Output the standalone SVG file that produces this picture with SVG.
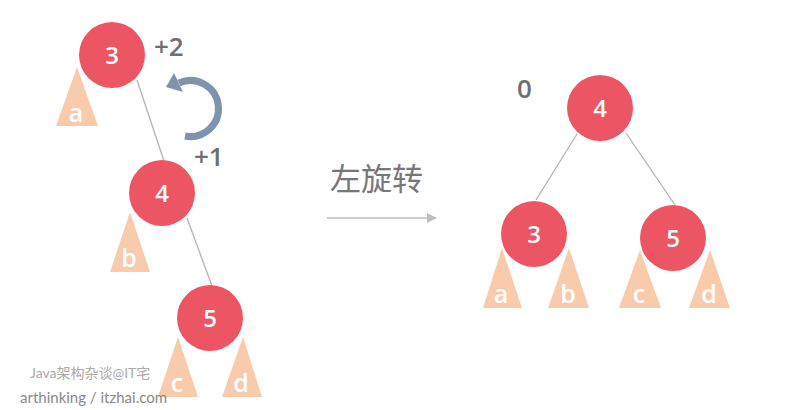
<svg xmlns="http://www.w3.org/2000/svg" width="800" height="410" viewBox="0 0 800 410">
<style>
.n{fill:#ec5564}
.nt{fill:#fff;font-family:"Open Sans","Liberation Sans",sans-serif;font-size:24px;font-weight:600;text-anchor:middle}
.t{fill:#f8cbad}
.tt{fill:#fff;font-family:"Open Sans","Liberation Sans",sans-serif;font-size:25px;font-weight:600;text-anchor:middle}
.e{stroke:#b3b3b3;stroke-width:1.3;fill:none}
.lb{fill:#6f6f6f;font-family:"Open Sans","Liberation Sans",sans-serif;font-size:26px;font-weight:600}
</style>
<defs>
<marker id="ah" markerWidth="10" markerHeight="10" refX="9" refY="5" orient="auto" markerUnits="userSpaceOnUse"><path d="M0,0 L10,5 L0,10 Z" fill="#bfbfbf"/></marker>
</defs>
<rect width="800" height="410" fill="#fff"/>
<g id="connectors">
<line class="e" x1="137" y1="80" x2="164" y2="161"/>
<line class="e" x1="187" y1="218" x2="212" y2="286"/>
<line class="e" x1="577" y1="134" x2="536" y2="200"/>
<line class="e" x1="626" y1="133" x2="675" y2="205"/>
<line x1="327" y1="218" x2="436" y2="218" stroke="#bfbfbf" stroke-width="1.5" marker-end="url(#ah)"/>
<path d="M185,136 A28,28 0 1 0 179,83" fill="none" stroke="#7f93ad" stroke-width="7"/>
<path d="M166,87 L174,73 L183,92 Z" fill="#7f93ad"/>
</g>
<g id="sub-a-left"><path class="t" d="M77,67 L56,126 L98,126 Z"/><text class="tt" x="76" y="122">a</text></g>
<g id="sub-b-left"><path class="t" d="M130,212 L110,272 L150,272 Z"/><text class="tt" x="129" y="267">b</text></g>
<g id="sub-c-left"><path class="t" d="M178,337 L158,397 L198,397 Z"/><text class="tt" x="177" y="392">c</text></g>
<g id="sub-d-left"><path class="t" d="M243,337 L222,397 L262,397 Z"/><text class="tt" x="241" y="392">d</text></g>
<g id="node-3-left"><circle class="n" cx="112" cy="55" r="33"/><text class="nt" x="112" y="64">3</text></g>
<g id="node-4-left"><circle class="n" cx="162" cy="193" r="33"/><text class="nt" x="162" y="202">4</text></g>
<g id="node-5-left"><circle class="n" cx="210" cy="318" r="33"/><text class="nt" x="210" y="327">5</text></g>
<text class="lb" x="154" y="56">+2</text>
<text class="lb" x="194" y="166">+1</text>
<text x="330" y="190" fill="#777" font-family="'Noto Sans CJK SC',sans-serif" font-size="31px">左旋转</text>
<text class="lb" x="517" y="98">0</text>
<g id="sub-a-right"><path class="t" d="M502,248 L483,308 L522,308 Z"/><text class="tt" x="501" y="303">a</text></g>
<g id="sub-b-right"><path class="t" d="M569,248 L548,308 L589,308 Z"/><text class="tt" x="568" y="303">b</text></g>
<g id="sub-c-right"><path class="t" d="M640,250 L619,308 L661,308 Z"/><text class="tt" x="639" y="303">c</text></g>
<g id="sub-d-right"><path class="t" d="M710,250 L689,308 L730,308 Z"/><text class="tt" x="709" y="303">d</text></g>
<g id="node-4-right"><circle class="n" cx="600" cy="108" r="33"/><text class="nt" x="600" y="117">4</text></g>
<g id="node-3-right"><circle class="n" cx="534" cy="234" r="33"/><text class="nt" x="534" y="243">3</text></g>
<g id="node-5-right"><circle class="n" cx="673" cy="238" r="33"/><text class="nt" x="673" y="247">5</text></g>
<text x="30" y="378" fill="#aaa" font-family="Lato,'Noto Sans CJK SC',sans-serif" font-size="14px">Java架构杂谈@IT宅</text>
<text x="20" y="403" fill="#888" font-family="Lato,sans-serif" font-size="15px">arthinking / itzhai.com</text>
</svg>
